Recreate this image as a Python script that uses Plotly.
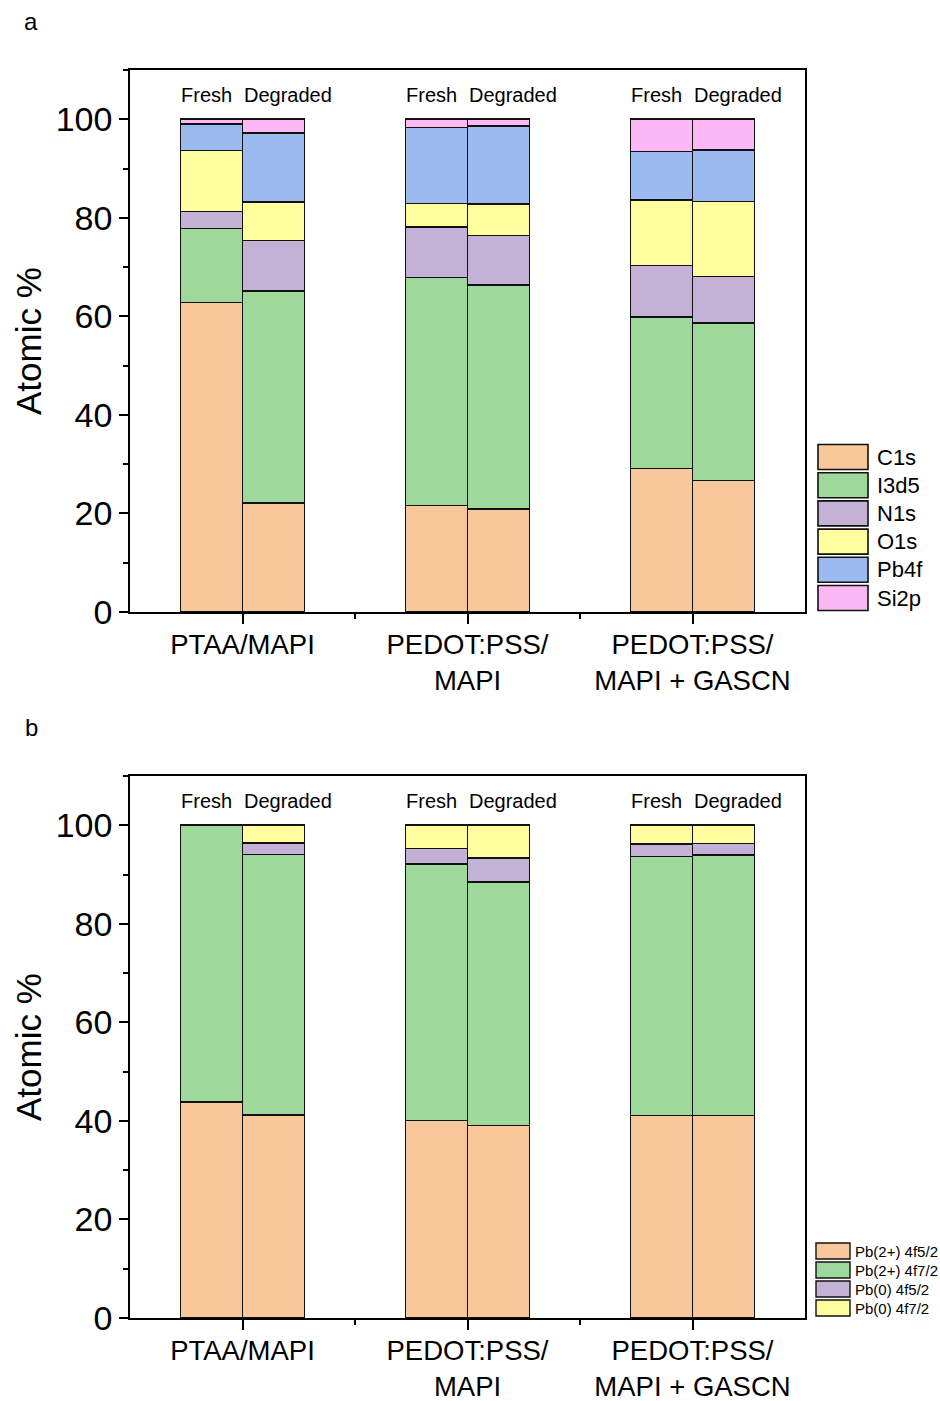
import plotly.graph_objects as go

# ---------------- data ----------------
categories = ["PTAA/MAPI", "PEDOT:PSS/<br>MAPI", "PEDOT:PSS/<br>MAPI + GASCN"]
conditions = ["Fresh", "Degraded"]

# panel a: order = PTAA Fresh, PTAA Degraded, PEDOT Fresh, PEDOT Degraded, GASCN Fresh, GASCN Degraded
c1s  = [62.8, 22.1, 21.6, 20.9, 29.1, 26.7]
i3d5 = [15.0, 43.1, 46.3, 45.5, 30.8, 31.9]
n1s  = [3.5, 10.2, 10.2, 10.0, 10.4, 9.5]
o1s  = [12.4, 7.8, 4.8, 6.4, 13.3, 15.2]
pb4f = [5.4, 14.0, 15.4, 15.8, 9.9, 10.5]
si2p = [0.9, 2.8, 1.7, 1.4, 6.5, 6.2]
names_a = ["C1s", "I3d5", "N1s", "O1s", "Pb4f", "Si2p"]

# panel b
pb2_4f52 = [43.8, 41.2, 40.1, 39.1, 41.1, 41.1]
pb2_4f72 = [56.2, 52.9, 52.1, 49.4, 52.6, 52.9]
pb0_4f52 = [0.0, 2.3, 3.1, 4.8, 2.5, 2.3]
pb0_4f72 = [0.0, 3.6, 4.7, 6.7, 3.8, 3.7]
names_b = ["Pb(2+) 4f5/2", "Pb(2+) 4f7/2", "Pb(0) 4f5/2", "Pb(0) 4f7/2"]

y_ticks = [0, 20, 40, 60, 80, 100]

# ---------------- style ----------------
colors_a = ["#F9C89A", "#9ED89B", "#C3B2D5", "#FFFD9E", "#9BBBF0", "#FCB7F5"]
colors_b = ["#F9C89A", "#9ED89B", "#C3B2D5", "#FFFD9E"]
FONT = "Liberation Sans, Arial, sans-serif"
W, H = 940, 1401
ML, MR, MT, MB = 130, 135, 70, 83
PW = W - ML - MR
PH = H - MT - MB
bar_w = 0.276

def px_x(px):
    return (px - ML) / PW

def px_y(py):
    return (H - MB - py) / PH

top_dom = [px_y(612), 1.0]
bot_dom = [0.0, px_y(776)]

# bar positions derived from category index and condition index
xpos = []
for i, _ in enumerate(categories):
    for j, _ in enumerate(conditions):
        xpos.append(i + (j - 0.5) * bar_w)

fig = go.Figure()
series_a = [c1s, i3d5, n1s, o1s, pb4f, si2p]
for vals, name, col in zip(series_a, names_a, colors_a):
    fig.add_trace(go.Bar(x=xpos, y=vals, name=name, width=bar_w,
                         marker=dict(color=col, line=dict(color="#111", width=1.6)),
                         xaxis="x", yaxis="y", showlegend=False))
series_b = [pb2_4f52, pb2_4f72, pb0_4f52, pb0_4f72]
for vals, name, col in zip(series_b, names_b, colors_b):
    fig.add_trace(go.Bar(x=xpos, y=vals, name=name, width=bar_w,
                         marker=dict(color=col, line=dict(color="#111", width=1.6)),
                         xaxis="x2", yaxis="y2", showlegend=False))

axis_common = dict(showline=True, linecolor="black", linewidth=1.6, mirror=True,
                   ticks="outside", tickcolor="black", tickwidth=1.6,
                   showgrid=False, zeroline=False, automargin=False)

xa = dict(axis_common, range=[-0.5, 2.5], tickvals=list(range(len(categories))),
          ticktext=categories, ticklen=10, ticklabelstandoff=-3,
          tickfont=dict(family=FONT, size=27.5, color="black"),
          minor=dict(tickvals=[0.5, 1.5], ticklen=5, ticks="outside",
                     tickcolor="black", tickwidth=1.6))
ya = dict(axis_common, range=[0, 110], tickvals=y_ticks, ticklen=9,
          tickfont=dict(family=FONT, size=34, color="black"),
          minor=dict(dtick=10, ticklen=5, ticks="outside", tickcolor="black", tickwidth=1.6))

annotations = []
shapes = []
for dom_y, yref in [(top_dom, "y"), (bot_dom, "y2")]:
    xref = "x" if yref == "y" else "x2"
    for i, _ in enumerate(categories):
        annotations.append(dict(x=i - 0.162, y=104.9, xref=xref, yref=yref, text=conditions[0],
                                xanchor="center", yanchor="middle",
                                showarrow=False, font=dict(family=FONT, size=20, color="black")))
        annotations.append(dict(x=i + 0.202, y=104.9, xref=xref, yref=yref, text=conditions[1],
                                xanchor="center", yanchor="middle",
                                showarrow=False, font=dict(family=FONT, size=20, color="black")))
    # y axis title
    annotations.append(dict(x=px_x(28), y=(dom_y[0] + dom_y[1]) / 2, xref="paper", yref="paper",
                            text="Atomic %", textangle=-90, showarrow=False,
                            xanchor="center", yanchor="middle",
                            font=dict(family=FONT, size=35, color="black")))

# panel letters
annotations.append(dict(x=px_x(31), y=px_y(22), xref="paper", yref="paper", text="a",
                        xanchor="center", yanchor="middle",
                        showarrow=False, font=dict(family=FONT, size=24, color="black")))
annotations.append(dict(x=px_x(31), y=px_y(727), xref="paper", yref="paper", text="b",
                        xanchor="center", yanchor="middle",
                        showarrow=False, font=dict(family=FONT, size=24, color="black")))

# custom legend a
for k, (name, col) in enumerate(zip(names_a, colors_a)):
    yc = 457 + k * 28.2
    shapes.append(dict(type="rect", xref="paper", yref="paper",
                       x0=px_x(818), x1=px_x(868), y0=px_y(yc + 12.5), y1=px_y(yc - 12.5),
                       fillcolor=col, line=dict(color="#111", width=1.6)))
    annotations.append(dict(x=px_x(875), y=px_y(yc), xref="paper", yref="paper", text=name,
                            xanchor="left", yanchor="middle", showarrow=False,
                            font=dict(family=FONT, size=22, color="black")))

# custom legend b
for k, (name, col) in enumerate(zip(names_b, colors_b)):
    yc = 1251 + k * 19
    shapes.append(dict(type="rect", xref="paper", yref="paper",
                       x0=px_x(816), x1=px_x(850), y0=px_y(yc + 8), y1=px_y(yc - 8),
                       fillcolor=col, line=dict(color="#111", width=1.4)))
    annotations.append(dict(x=px_x(853), y=px_y(yc), xref="paper", yref="paper", text=name,
                            xanchor="left", yanchor="middle", showarrow=False,
                            font=dict(family=FONT, size=15, color="black")))

fig.update_layout(
    width=W, height=H, barmode="stack",
    margin=dict(l=ML, r=MR, t=MT, b=MB, autoexpand=False),
    paper_bgcolor="white", plot_bgcolor="white",
    font=dict(family=FONT, color="black"),
    xaxis=dict(xa, domain=[0, 1], anchor="y"),
    yaxis=dict(ya, domain=top_dom, anchor="x"),
    xaxis2=dict(xa, domain=[0, 1], anchor="y2"),
    yaxis2=dict(ya, domain=bot_dom, anchor="x2"),
    annotations=annotations, shapes=shapes,
    showlegend=False,
)

fig.write_html("out.html")
